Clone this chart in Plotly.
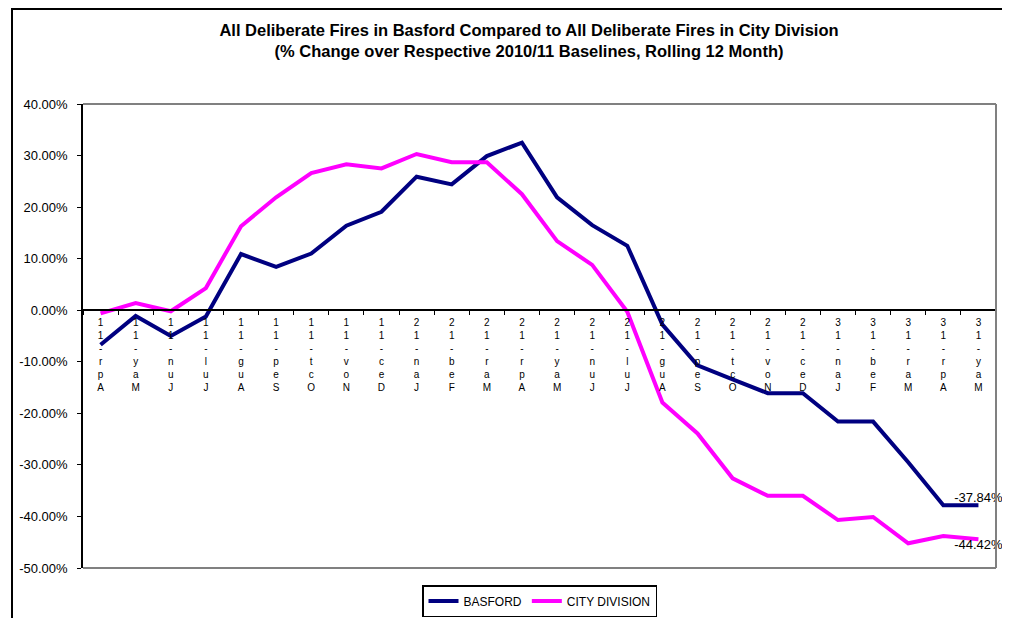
import plotly.graph_objects as go

months = ["Apr-11", "May-11", "Jun-11", "Jul-11", "Aug-11", "Sep-11", "Oct-11", "Nov-11",
          "Dec-11", "Jan-12", "Feb-12", "Mar-12", "Apr-12", "May-12", "Jun-12", "Jul-12",
          "Aug-12", "Sep-12", "Oct-12", "Nov-12", "Dec-12", "Jan-13", "Feb-13", "Mar-13",
          "Apr-13", "May-13"]

basford = [-6.7, -1.1, -5.0, -1.2, 10.9, 8.4, 11.0, 16.4, 19.1, 25.9, 24.4, 29.9, 32.5,
           21.9, 16.5, 12.5, -2.8, -10.7, -13.4, -16.1, -16.1, -21.6, -21.6, -29.5,
           -37.84, -37.84]

city = [-0.6, 1.4, -0.2, 4.3, 16.3, 21.9, 26.6, 28.3, 27.5, 30.3, 28.7, 28.7, 22.5,
        13.4, 8.8, -0.3, -17.9, -23.9, -32.6, -36.0, -36.0, -40.7, -40.1, -45.2,
        -43.8, -44.42]

y_ticks = [-50, -40, -30, -20, -10, 0, 10, 20, 30, 40]

FONT = "Liberation Sans, Arial, sans-serif"

# the page body adds an 8px margin, so the figure is sized to fit the window
W, H = 1002, 610
ML, MR, MT, MB = 75, 14, 96, 50
PW, PH = W - ML - MR, H - MT - MB


def stacked(label):
    return "<br>".join(reversed(label))


def last_label(values):
    return [""] * (len(values) - 1) + [f"{values[-1]:.2f}%"]


fig = go.Figure()
fig.add_trace(go.Scatter(
    x=months, y=basford, name="BASFORD", mode="lines+text",
    line=dict(color="#000080", width=4),
    text=last_label(basford), textposition="top center", cliponaxis=False,
    textfont=dict(family=FONT, size=13, color="black"),
))
fig.add_trace(go.Scatter(
    x=months, y=city, name="CITY DIVISION", mode="lines+text",
    line=dict(color="#FF00FF", width=4),
    text=last_label(city), textposition="bottom center", cliponaxis=False,
    textfont=dict(family=FONT, size=13, color="black"),
))

ymin, ymax = -50, 40
zero_pos = (0 - ymin) / (ymax - ymin)

fig.update_layout(
    width=W, height=H,
    margin=dict(l=ML, r=MR, t=MT, b=MB),
    paper_bgcolor="white", plot_bgcolor="white",
    font=dict(family=FONT, size=12, color="black"),
    title=dict(
        text="All Deliberate Fires in Basford Compared to All Deliberate Fires in City Division<br>"
             "(% Change over Respective 2010/11 Baselines, Rolling 12 Month)",
        font=dict(family=FONT, size=16.5, color="black", weight="bold"),
        x=521 / W, xref="container", xanchor="center",
        y=1 - 28 / H, yref="container", yanchor="middle",
    ),
    showlegend=True,
    legend=dict(
        orientation="h", x=0.5, xanchor="center", xref="paper",
        y=1 - 577 / H, yanchor="top", yref="container",
        bordercolor="black", borderwidth=1.5,
        font=dict(family=FONT, size=12, color="black"),
        itemwidth=30, tracegroupgap=0,
    ),
    xaxis=dict(
        type="category", range=[-0.5, len(months) - 0.5],
        tickmode="array", tickvals=months, ticktext=[stacked(m) for m in months],
        tickson="boundaries", ticks="outside", ticklen=4, tickcolor="black",
        tickfont=dict(family=FONT, size=10, color="black"),
        ticklabelstandoff=3,
        showline=True, linecolor="black", linewidth=1.5,
        showgrid=False, zeroline=False, tickangle=0,
        anchor="free", position=zero_pos, automargin=False,
    ),
    yaxis=dict(
        range=[ymin, ymax], tickvals=y_ticks,
        ticktext=[f"{v:.2f}%" for v in y_ticks],
        ticks="outside", ticklen=4, tickcolor="black",
        tickfont=dict(family=FONT, size=13, color="black"),
        ticklabelstandoff=7,
        showline=True, linecolor="black", linewidth=1.5,
        showgrid=False, zeroline=False, automargin=False,
    ),
)

# plot-area frame (grey top/right/bottom) and outer chart border
fig.add_shape(type="line", xref="paper", yref="paper", x0=0, x1=1, y0=1, y1=1,
              line=dict(color="#808080", width=2))
fig.add_shape(type="line", xref="paper", yref="paper", x0=0, x1=1, y0=0, y1=0,
              line=dict(color="#808080", width=2))
fig.add_shape(type="line", xref="paper", yref="paper", x0=1, x1=1, y0=0, y1=1,
              line=dict(color="#808080", width=2))
fig.add_shape(type="rect", xref="paper", yref="paper",
              x0=(4 - ML) / PW, x1=1.1, y0=-0.3, y1=1 + (MT - 1) / PH,
              line=dict(color="black", width=2), layer="below")

fig.write_html("out.html")
